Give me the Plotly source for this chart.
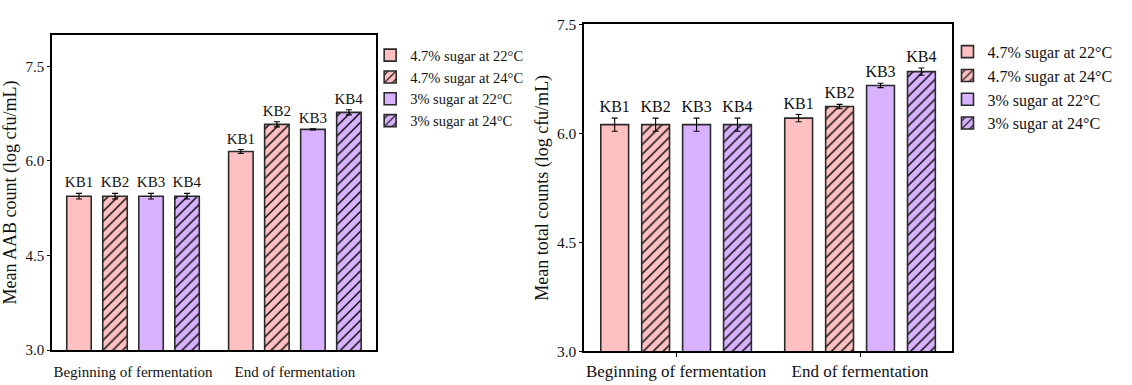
import plotly.graph_objects as go

# Sampling stages shown on the category axis
stages = ["Beginning of fermentation", "End of fermentation"]

# Treatment series (legend names), bar tags and styling
series_names = ["4.7% sugar at 22°C", "4.7% sugar at 24°C", "3% sugar at 22°C", "3% sugar at 24°C"]
series_tags = ["KB1", "KB2", "KB3", "KB4"]
fill_colors = ["#FFC0C1", "#FFC0C1", "#D9B2FF", "#D9B2FF"]
hatches = ["", "/", "", "/"]

# Mean acetic acid bacteria counts (log cfu/mL) per series: [beginning, end]
aab_kb1 = [5.44, 6.15]
aab_kb2 = [5.44, 6.58]
aab_kb3 = [5.44, 6.50]
aab_kb4 = [5.44, 6.77]
aab_err_kb1 = [0.045, 0.03]
aab_err_kb2 = [0.045, 0.04]
aab_err_kb3 = [0.045, 0.01]
aab_err_kb4 = [0.045, 0.04]

# Mean total counts (log cfu/mL) per series: [beginning, end]
tot_kb1 = [6.12, 6.21]
tot_kb2 = [6.12, 6.37]
tot_kb3 = [6.12, 6.66]
tot_kb4 = [6.12, 6.85]
tot_err_kb1 = [0.09, 0.05]
tot_err_kb2 = [0.09, 0.03]
tot_err_kb3 = [0.09, 0.03]
tot_err_kb4 = [0.09, 0.05]

aab_means = [aab_kb1, aab_kb2, aab_kb3, aab_kb4]
aab_errs = [aab_err_kb1, aab_err_kb2, aab_err_kb3, aab_err_kb4]
tot_means = [tot_kb1, tot_kb2, tot_kb3, tot_kb4]
tot_errs = [tot_err_kb1, tot_err_kb2, tot_err_kb3, tot_err_kb4]

FONT = "Liberation Serif"

fig = go.Figure()


def add_panel(means, errs, xa, ya, legend_id, tag_size, prefix):
    for i in range(4):
        fig.add_trace(go.Bar(
            x=stages, y=means[i], name=series_names[i],
            xaxis=xa, yaxis=ya, legend=legend_id,
            offsetgroup=f"{prefix}{i}",
            marker=dict(
                color=fill_colors[i],
                line=dict(color="#2a2a2a", width=1.6),
                pattern=dict(shape=hatches[i], fgcolor="#000000", fgopacity=1,
                             bgcolor=fill_colors[i], size=7, solidity=0.2),
            ),
            error_y=dict(type="data", array=errs[i], color="black",
                         thickness=1.1, width=3),
            hoverinfo="x+y+name",
        ))
    # Tag labels sitting just above each error bar cap
    for i in range(4):
        tops = [m + e for m, e in zip(means[i], errs[i])]
        fig.add_trace(go.Bar(
            x=stages, y=tops, xaxis=xa, yaxis=ya,
            offsetgroup=f"{prefix}{i}", showlegend=False,
            marker=dict(color="rgba(0,0,0,0)", line=dict(width=0)),
            text=[series_tags[i]] * len(stages), textposition="outside",
            constraintext="none", cliponaxis=False,
            textfont=dict(family=FONT, size=tag_size, color="#111111"),
            hoverinfo="skip",
        ))


add_panel(aab_means, aab_errs, "x", "y", "legend", 15, "a")
add_panel(tot_means, tot_errs, "x2", "y2", "legend2", 16, "t")

axis_common = dict(showline=True, linecolor="black", linewidth=1.5, mirror=True,
                   showgrid=False, zeroline=False)

fig.update_layout(
    width=1132, height=385,
    margin=dict(l=0, r=0, t=0, b=0),
    paper_bgcolor="white", plot_bgcolor="white",
    barmode="group", bargap=0.11, bargroupgap=0.32,
    font=dict(family=FONT, color="#111111"),
    xaxis=dict(domain=[0.046, 0.332], anchor="y", ticks="", ticklabelstandoff=7,
               tickfont=dict(size=15, family=FONT), **axis_common),
    yaxis=dict(domain=[0.073, 0.930], anchor="x", range=[3.0, 8.0],
               tickvals=[3.0, 4.5, 6.0, 7.5], ticktext=["3.0", "4.5", "6.0", "7.5"],
               ticks="outside", ticklen=3, tickwidth=1, tickcolor="black",
               tickfont=dict(size=15, family=FONT),
               title=dict(text="Mean AAB count (log cfu/mL)", standoff=4,
                          font=dict(size=18, family=FONT)),
               **axis_common),
    xaxis2=dict(domain=[0.516, 0.841], anchor="y2", ticks="outside", ticklen=4,
                tickwidth=1, tickcolor="black",
                tickfont=dict(size=17, family=FONT), **axis_common),
    yaxis2=dict(domain=[0.070, 0.958], anchor="x2", range=[3.0, 7.5],
                tickvals=[3.0, 4.5, 6.0, 7.5], ticktext=["3.0", "4.5", "6.0", "7.5"],
                ticks="outside", ticklen=3, tickwidth=1, tickcolor="black",
                tickfont=dict(size=15.5, family=FONT),
                title=dict(text="Mean total counts (log cfu/mL)", standoff=4,
                           font=dict(size=18, family=FONT)),
                **axis_common),
    legend=dict(x=0.327, y=0.918, xanchor="left", yanchor="top",
                bgcolor="rgba(0,0,0,0)", borderwidth=0,
                font=dict(size=14.5, family=FONT), tracegroupgap=0,
                itemwidth=30, traceorder="normal"),
    legend2=dict(x=0.837, y=0.93, xanchor="left", yanchor="top",
                 bgcolor="rgba(0,0,0,0)", borderwidth=0,
                 font=dict(size=16, family=FONT), tracegroupgap=0,
                 itemwidth=30, traceorder="normal"),
)

fig.write_html("out.html")
